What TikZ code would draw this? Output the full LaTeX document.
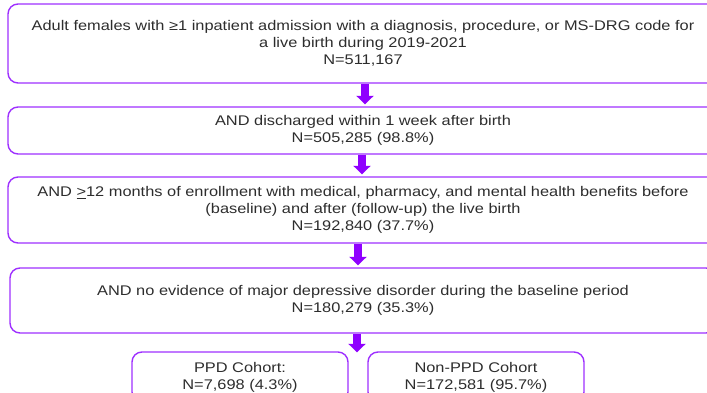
\documentclass[tikz,border=0pt]{standalone}
\usepackage{fontspec}
\setmainfont{Liberation Sans}[FakeStretch=1.17]
\usetikzlibrary{arrows.meta}
\definecolor{vborder}{RGB}{158,48,255}
\definecolor{varrow}{RGB}{143,0,255}
\definecolor{vtext}{RGB}{45,45,45}
\begin{document}
\begin{tikzpicture}[x=1pt,y=-1pt,
  box/.style={draw=vborder, line width=1.4pt, rounded corners=10pt, align=center,
    inner sep=0pt, text=vtext, font=\fontsize{14}{16.8}\selectfont},
  arr/.style={draw=varrow, line width=8pt, shorten >=2pt,
    -{Triangle[width=17pt,length=8.5pt]}}]
\useasboundingbox (0,0) rectangle (707,393);
\clip (0,0) rectangle (707,393);
\node[box, minimum width=710pt, minimum height=79pt] (b1) at (363,43.5)
  {\raisebox{-1.5pt}{\parbox{700pt}{\centering Adult females with ≥1 inpatient admission with a diagnosis, procedure, or MS-DRG code for\\
   a live birth during 2019-2021\\ N=511,167}}};
\node[box, minimum width=710pt, minimum height=47pt] (b2) at (363,130.5)
  {AND discharged within 1 week after birth\\ N=505,285 (98.8\%)};
\node[box, minimum width=710pt, minimum height=66pt] (b3) at (363,210)
  {AND \underline{>}12 months of enrollment with medical, pharmacy, and mental health benefits before\\
   (baseline) and after (follow-up) the live birth\\ N=192,840 (37.7\%)};
\node[box, minimum width=706pt, minimum height=65pt] (b4) at (363,300.5)
  {AND no evidence of major depressive disorder during the baseline period\\ N=180,279 (35.3\%)};
\node[box, minimum width=216pt, minimum height=50pt] (ppd) at (240,377)
  {PPD Cohort:\\ N=7,698 (4.3\%)};
\node[box, minimum width=216pt, minimum height=50pt] (nppd) at (476,377)
  {Non-PPD Cohort\\ N=172,581 (95.7\%)};
\draw[arr] ([xshift=2pt]b1.south) -- ([xshift=2pt]b2.north);
\draw[arr] ([xshift=-1pt]b2.south) -- ([xshift=-1pt]b3.north);
\draw[arr] ([xshift=-5pt]b3.south) -- ([xshift=-5pt]b4.north);
\coordinate (split) at ([xshift=-6pt]b4.south |- ppd.north);
\draw[arr, shorten >=-1pt] ([xshift=-6pt]b4.south) -- (split);
\end{tikzpicture}
\end{document}
